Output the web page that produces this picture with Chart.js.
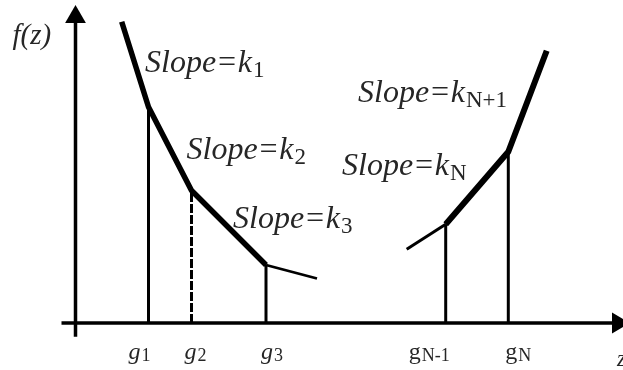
<!DOCTYPE html>
<html><head><meta charset="utf-8">
<script src="https://cdn.jsdelivr.net/npm/chart.js@4"></script>
<style>html,body{margin:0;padding:0;background:#fff}#wrap{width:623px;height:370px;position:relative}
.pre{font-family:"Liberation Serif";position:absolute;left:-999px}.pre i{font-style:italic}</style>
</head><body><div id="wrap"><canvas id="c"></canvas></div>
<div class="pre">a<i>a</i></div>
<script>
// Breakpoints g1, g2, g3, gN-1, gN (data units) and f at each
const breakSubs = ['1', '2', '3', 'N-1', 'N'];
const breakX = [7.3, 11.6, 19.05, 37.02, 43.28];
const breakY = [21.6, 13.25, 5.8, 9.87, 17.13];
// Left convex piece
const leftX = [4.62, 7.3, 11.6, 19.05, 24.15];
const leftY = [30.13, 21.6, 13.25, 5.8, 4.45];
// Right convex piece
const rightX = [33.12, 37.02, 43.28, 47.12];
const rightY = [7.37, 9.87, 17.13, 27.23];
// Slope labels
const slopeSubs = ['1', '2', '3', 'N', 'N+1'];

const toPts = (xs, ys) => xs.map((x, i) => ({x, y: ys[i]}));

// layout of text (data coordinates of left/baseline)
const slopePos = [[6.95, 25.15], [11.1, 16.45], [15.75, 9.5], [26.65, 14.8], [28.25, 22.1]];
const gDx = [-20, -7, -5, -37, -3]; // px offset of label left from line
const gItalic = [true, true, true, false, false];
const gBaseline = -3.6;

const datasets = [];
// axes
datasets.push({data: [{x: 0, y: -1.37}, {x: 0, y: 30.6}], borderColor: '#000', backgroundColor: '#000',
  borderWidth: 3.5, pointRadius: [0, 12], pointStyle: 'triangle', pointRotation: 0, pointBorderWidth: 0});
datasets.push({data: [{x: -1.4, y: 0}, {x: 54.25, y: 0}], borderColor: '#000', backgroundColor: '#000',
  borderWidth: 3.5, pointRadius: [0, 12], pointStyle: 'triangle', pointRotation: 90, pointBorderWidth: 0});
// verticals at breakpoints
breakX.forEach((g, i) => {
  datasets.push({data: [{x: g, y: 0}, {x: g, y: breakY[i]}], borderColor: '#000', borderWidth: 3,
    borderDash: i === 1 ? [9, 2] : [], pointRadius: 0});
});
// curves
datasets.push({data: toPts(leftX, leftY), borderColor: '#000', pointRadius: 0, borderWidth: 5.5,
  borderCapStyle: 'butt', borderJoinStyle: 'round',
  segment: {borderWidth: c => c.p0DataIndex >= 3 ? 2.8 : 5.5}});
datasets.push({data: toPts(rightX, rightY), borderColor: '#000', pointRadius: 0, borderWidth: 5.5,
  borderCapStyle: 'butt', borderJoinStyle: 'round',
  segment: {borderWidth: c => c.p0DataIndex < 1 ? 3 : 6}});
datasets.forEach(d => { d.showLine = true; d.clip = false; d.tension = 0; d.fill = false; });

const SERIF = '"Liberation Serif", "Times New Roman", Times, serif';
const textPlugin = {
  id: 'texts',
  afterDraw(chart) {
    const {ctx, scales: {x, y}} = chart;
    ctx.save();
    ctx.fillStyle = '#262626';
    ctx.textBaseline = 'alphabetic';
    ctx.textAlign = 'left';
    const drawSub = (px, py, main, sub, mf, sf, dy) => {
      ctx.font = mf;
      ctx.fillText(main, px, py);
      const w = ctx.measureText(main).width;
      ctx.font = sf;
      ctx.fillText(sub, px + w + 1, py + dy);
    };
    ctx.font = 'italic 29px ' + SERIF;
    ctx.fillText('f(z)', x.getPixelForValue(-6.3), y.getPixelForValue(27.95));
    slopeSubs.forEach((s, i) => {
      drawSub(x.getPixelForValue(slopePos[i][0]), y.getPixelForValue(slopePos[i][1]), 'Slope=k', s,
        'italic 32px ' + SERIF, '23px ' + SERIF, 5);
    });
    breakX.forEach((g, i) => {
      drawSub(x.getPixelForValue(g) + gDx[i], y.getPixelForValue(gBaseline), 'g', breakSubs[i],
        (gItalic[i] ? 'italic ' : '') + '24px ' + SERIF, '18px ' + SERIF, 2);
    });
    ctx.font = 'italic 23px ' + SERIF;
    ctx.fillText('z', x.getPixelForValue(54.15), y.getPixelForValue(-4.3));
    ctx.restore();
  }
};

function build() {
  new Chart(document.getElementById('c'), {
    type: 'scatter',
    data: {datasets},
    options: {
      responsive: true, maintainAspectRatio: false, animation: false,
      layout: {padding: 0, autoPadding: false},
      plugins: {legend: {display: false}, tooltip: {enabled: false}},
      scales: {
        x: {type: 'linear', min: -7.55, max: 54.75, display: false},
        y: {type: 'linear', min: -4.7, max: 32.3, display: false}
      }
    },
    plugins: [textPlugin]
  });
}
Promise.all([
  document.fonts.load('italic 30px "Liberation Serif"'),
  document.fonts.load('30px "Liberation Serif"')
]).then(build, build);
</script></body></html>
